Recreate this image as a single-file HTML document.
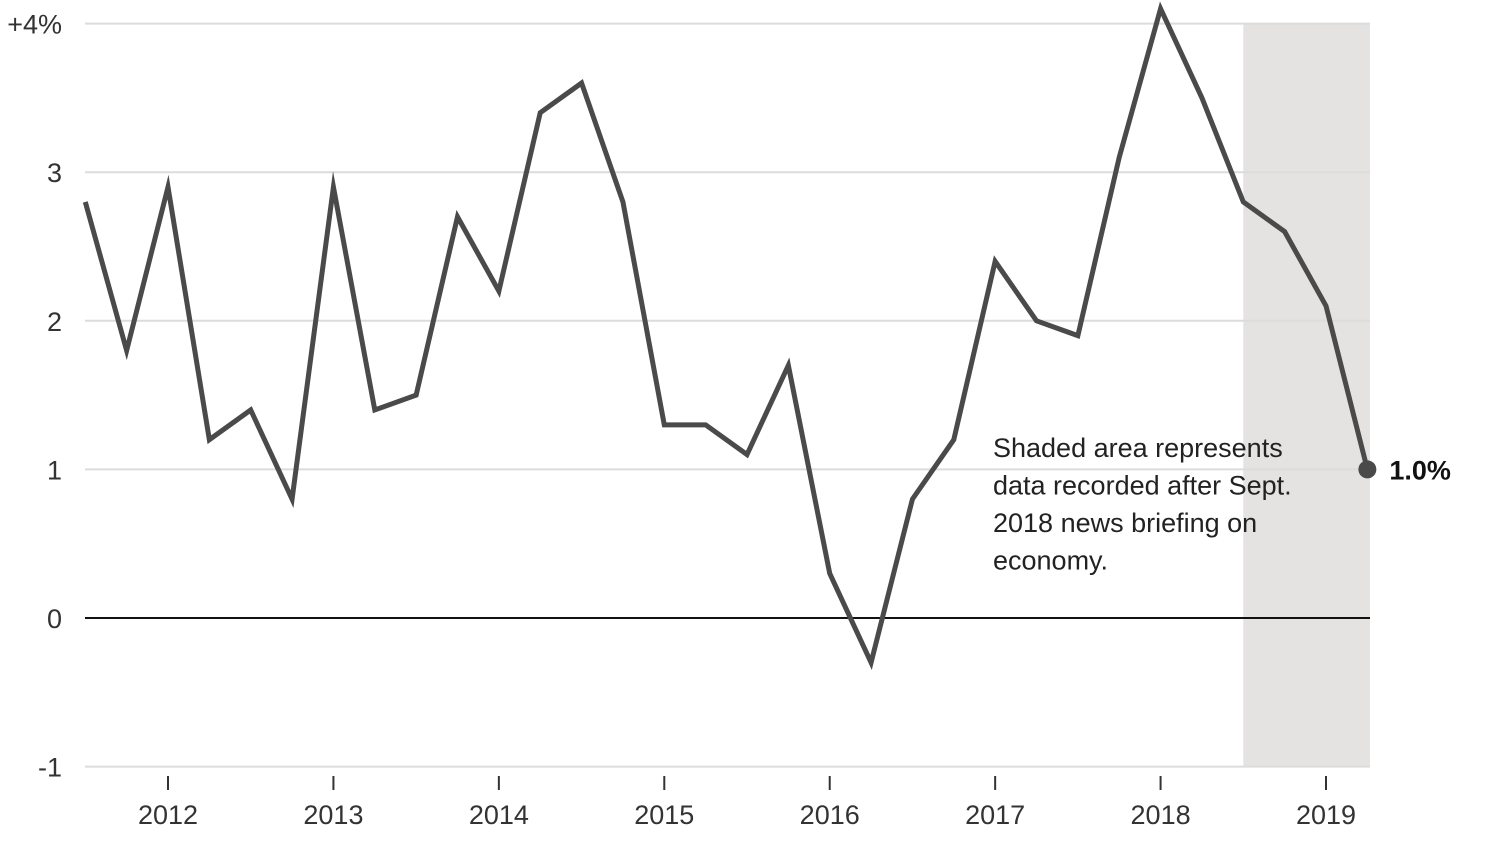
<!DOCTYPE html>
<html><head><meta charset="utf-8"><style>
html,body{margin:0;padding:0;background:#fff;}
svg{display:block;font-family:"Liberation Sans",sans-serif;}
</style></head><body>
<svg id="chart" width="1497" height="842" viewBox="0 0 1497 842"></svg>
<script>
const values = [2.8,1.8,2.9,1.2,1.4,0.8,2.9,1.4,1.5,2.7,2.2,3.4,3.6,2.8,1.3,1.3,1.1,1.7,0.3,-0.3,0.8,1.2,2.4,2.0,1.9,3.1,4.1,3.5,2.8,2.6,2.1,1.0];
const startYear = 2011.5; // 2011 Q3
const yTicks = [-1,0,1,2,3,4];
const yTickLabels = ["-1","0","1","2","3","+4%"];
const xYears = [2012,2013,2014,2015,2016,2017,2018,2019];
const shadeStart = 2018.5;
const endLabel = "1.0%";

const NS="http://www.w3.org/2000/svg";
const svg=document.getElementById('chart');
const x=t=>168+(t-2012)*165.43;
const y=v=>618-v*148.6;
const xL=85,xR=1370;
function el(tag,attrs,parent){const e=document.createElementNS(NS,tag);for(const k in attrs)e.setAttribute(k,attrs[k]);(parent||svg).appendChild(e);return e;}

const shade=el('rect',{x:x(shadeStart),y:y(4),width:xR-x(shadeStart),height:y(-1)-y(4),fill:'#e4e3e1'});



yTicks.forEach((v,i)=>{
  const ln=el('line',{x1:xL,x2:xR,y1:y(v),y2:y(v),stroke:v===0?'#111':'#dcdcdc','stroke-width':v===0?2:2});
  
  
  const t=el('text',{x:62,y:y(v)+10,'text-anchor':'end','font-size':27,fill:'#333'});
  t.textContent=yTickLabels[i];
  
  
});

xYears.forEach(yr=>{
  const tk=el('line',{x1:x(yr),x2:x(yr),y1:776,y2:790,stroke:'#333','stroke-width':2});
  
  
  const t=el('text',{x:x(yr),y:824,'text-anchor':'middle','font-size':27,fill:'#333'});
  t.textContent=yr;
  
  
});

const pts=values.map((v,i)=>[x(startYear+i*0.25),y(v)]);
const path=el('polyline',{points:pts.map(p=>p.join(',')).join(' '),fill:'none',stroke:'#4a4a4a','stroke-width':5,'stroke-linejoin':'miter','stroke-miterlimit':10});



const last=pts[pts.length-1];
const dot=el('circle',{cx:last[0],cy:last[1],r:9,fill:'#4a4a4a'});


const lbl=el('text',{x:last[0]+22,y:last[1]+10,'font-size':27,'font-weight':'bold',fill:'#111'});
lbl.textContent=endLabel;



const note=["Shaded area represents","data recorded after Sept.","2018 news briefing on","economy."];
note.forEach((s,i)=>{
  const t=el('text',{x:993,y:457+i*37.5,'font-size':27,fill:'#222'});
  t.textContent=s;
  
  
});
</script>
</body></html>
